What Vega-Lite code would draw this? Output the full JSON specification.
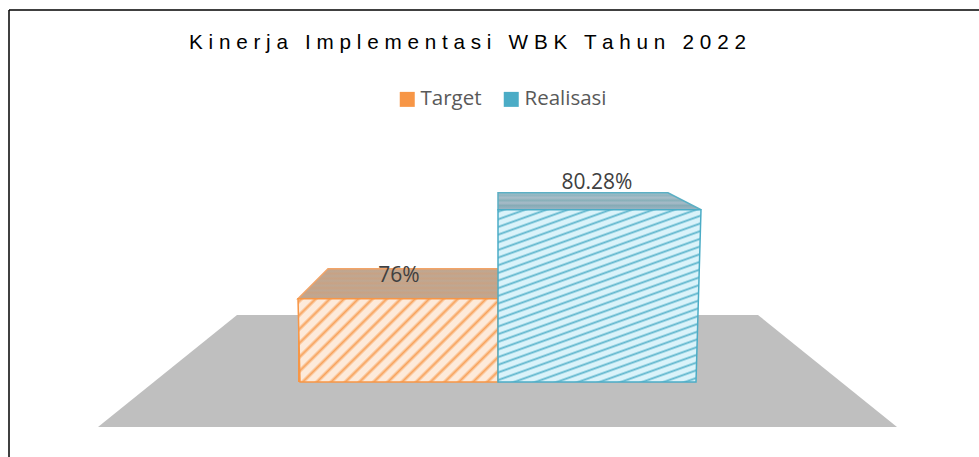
{
"$schema":"https://vega.github.io/schema/vega-lite/v6.json",
"description":"Kinerja Implementasi WBK Tahun 2022",
"width":979,"height":457,"padding":0,"autosize":"none","background":"white",
"title":{"text":"K i n e r j a \u00a0 I m p l e m e n t a s i \u00a0 W B K \u00a0 T a h u n \u00a0 2 0 2 2","anchor":"start","frame":"group","dx":189,"dy":58,"font":"Liberation Sans","fontSize":20.7,"fontWeight":"normal","color":"#000000"},
"config":{"view":{"stroke":null},"axis":{"grid":false}},
"datasets":{
"faces":[
{"face":"targetTop","v":76,"a":-0.0,"b":1.0},
{"face":"targetTop","v":77.44,"a":0.15,"b":1.0},
{"face":"realTop","v":80.28,"a":1.0,"b":2.015},
{"face":"realTop","v":81.1,"a":1.0,"b":1.85},
{"face":"targetFront","v":72,"a":0.01,"b":1.0},
{"face":"targetFront","v":76,"a":0.0,"b":1.0},
{"face":"realFront","v":72,"a":1.0,"b":1.99},
{"face":"realFront","v":80.28,"a":1.0,"b":2.015}
],
"floor":[{"v":69.84,"a":-1.0,"b":2.995},{"v":75.22,"a":-0.305,"b":2.3}],
"bars":[
{"series":"Target","value":76,"base":72,"start":0,"end":1,"labelPos":77.08,"mid":0.505,"label":"76%"},
{"series":"Realisasi","value":80.28,"base":72,"start":1,"end":1.99,"labelPos":81.57,"mid":1.495,"label":"80.28%"}
],
"frameH":[{"y":89.885,"x":-1.445,"x2":3.405}],
"frameV":[{"x":-1.445,"y":89.885,"y2":68.394}]
},
"layer":[
{"data":{"name":"floor"},"mark":{"type":"area","orient":"horizontal","color":"#BFBFBF"},
"encoding":{"y":{"field":"v","type":"quantitative","scale":{"domain":[68.394,90.365],"zero":false,"nice":false},"axis":null},"x":{"field":"a","type":"quantitative","scale":{"domain":[-1.49,3.405],"zero":false,"nice":false},"axis":null},"x2":{"field":"b"}}},
{"data":{"name":"frameH"},"mark":{"type":"rule","color":"#000000","strokeWidth":1.5},"encoding":{"y":{"field":"y","type":"quantitative"},"x":{"field":"x","type":"quantitative"},"x2":{"field":"x2"}}},
{"data":{"name":"frameV"},"mark":{"type":"rule","color":"#000000","strokeWidth":1.5},"encoding":{"x":{"field":"x","type":"quantitative"},"y":{"field":"y","type":"quantitative"},"y2":{"field":"y2"}}},
{"data":{"name":"bars"},"mark":{"type":"rect"},
"encoding":{"x":{"field":"start","type":"quantitative"},"x2":{"field":"end"},"y":{"field":"value","type":"quantitative"},"y2":{"field":"base"},
"fill":{"field":"series","type":"nominal","scale":{"domain":["Target","Realisasi"],"range":["#F79646","#4BACC6"]},
"legend":{"title":null,"orient":"none","legendX":397,"legendY":89,"direction":"horizontal","symbolType":"square","symbolSize":225,"symbolStrokeWidth":0,"labelFont":"Open Sans","labelFontSize":20.5,"labelColor":"#595959","labelOffset":3,"columnPadding":19,"symbolOpacity":1}}}},
{"data":{"name":"faces"},"transform":[{"filter":"datum.face==='targetTop'"}],"mark":{"type":"area","orient":"horizontal","stroke":"#F2A468","strokeWidth":1.5,
"color":{"gradient":"linear","x1":0,"y1":0,"x2":0,"y2":1,"stops":[{"offset":0,"color":"#C8A284"},{"offset":0.08,"color":"#BFA792"},{"offset":0.16,"color":"#C8A284"},{"offset":0.24,"color":"#BFA792"},{"offset":0.32,"color":"#C8A284"},{"offset":0.4,"color":"#BFA792"},{"offset":0.48,"color":"#C8A284"},{"offset":0.56,"color":"#BFA792"},{"offset":0.64,"color":"#C8A284"},{"offset":0.72,"color":"#BFA792"},{"offset":0.8,"color":"#C8A284"},{"offset":0.88,"color":"#BFA792"},{"offset":1,"color":"#C8A284"}]}},
"encoding":{"y":{"field":"v","type":"quantitative"},"x":{"field":"a","type":"quantitative"},"x2":{"field":"b"}}},
{"data":{"name":"faces"},"transform":[{"filter":"datum.face==='targetFront'"}],"mark":{"type":"area","orient":"horizontal","stroke":"#F79646","strokeWidth":1.5,
"color":{"gradient":"linear","x1":0,"y1":0,"x2":1.2067,"y2":0.507,"stops":[
{"offset":0,"color":"#FDEADA"},{"offset":0.0125,"color":"#F8A35C"},{"offset":0.025,"color":"#FDEADA"},
{"offset":0.05,"color":"#FDEADA"},{"offset":0.0625,"color":"#F8A35C"},{"offset":0.075,"color":"#FDEADA"},
{"offset":0.1,"color":"#FDEADA"},{"offset":0.1125,"color":"#F8A35C"},{"offset":0.125,"color":"#FDEADA"},
{"offset":0.15,"color":"#FDEADA"},{"offset":0.1625,"color":"#F8A35C"},{"offset":0.175,"color":"#FDEADA"},
{"offset":0.2,"color":"#FDEADA"},{"offset":0.2125,"color":"#F8A35C"},{"offset":0.225,"color":"#FDEADA"},
{"offset":0.25,"color":"#FDEADA"},{"offset":0.2625,"color":"#F8A35C"},{"offset":0.275,"color":"#FDEADA"},
{"offset":0.3,"color":"#FDEADA"},{"offset":0.3125,"color":"#F8A35C"},{"offset":0.325,"color":"#FDEADA"},
{"offset":0.35,"color":"#FDEADA"},{"offset":0.3625,"color":"#F8A35C"},{"offset":0.375,"color":"#FDEADA"},
{"offset":0.4,"color":"#FDEADA"},{"offset":0.4125,"color":"#F8A35C"},{"offset":0.425,"color":"#FDEADA"},
{"offset":0.45,"color":"#FDEADA"},{"offset":0.4625,"color":"#F8A35C"},{"offset":0.475,"color":"#FDEADA"},
{"offset":0.5,"color":"#FDEADA"},{"offset":0.5125,"color":"#F8A35C"},{"offset":0.525,"color":"#FDEADA"},
{"offset":0.55,"color":"#FDEADA"},{"offset":0.5625,"color":"#F8A35C"},{"offset":0.575,"color":"#FDEADA"},
{"offset":0.6,"color":"#FDEADA"},{"offset":0.6125,"color":"#F8A35C"},{"offset":0.625,"color":"#FDEADA"},
{"offset":0.65,"color":"#FDEADA"},{"offset":0.6625,"color":"#F8A35C"},{"offset":0.675,"color":"#FDEADA"},
{"offset":0.7,"color":"#FDEADA"},{"offset":0.7125,"color":"#F8A35C"},{"offset":0.725,"color":"#FDEADA"},
{"offset":0.75,"color":"#FDEADA"},{"offset":0.7625,"color":"#F8A35C"},{"offset":0.775,"color":"#FDEADA"},
{"offset":0.8,"color":"#FDEADA"},{"offset":0.8125,"color":"#F8A35C"},{"offset":0.825,"color":"#FDEADA"},
{"offset":0.85,"color":"#FDEADA"},{"offset":0.8625,"color":"#F8A35C"},{"offset":0.875,"color":"#FDEADA"},
{"offset":0.9,"color":"#FDEADA"},{"offset":0.9125,"color":"#F8A35C"},{"offset":0.925,"color":"#FDEADA"},
{"offset":0.95,"color":"#FDEADA"},{"offset":0.9625,"color":"#F8A35C"},{"offset":0.975,"color":"#FDEADA"},{"offset":1,"color":"#FDEADA"}]}},
"encoding":{"y":{"field":"v","type":"quantitative"},"x":{"field":"a","type":"quantitative"},"x2":{"field":"b"}}},
{"data":{"name":"faces"},"transform":[{"filter":"datum.face==='realTop'"}],"mark":{"type":"area","orient":"horizontal","stroke":"#5BAFC4","strokeWidth":1.5,
"color":{"gradient":"linear","x1":0,"y1":0,"x2":0,"y2":1,"stops":[{"offset":0,"color":"#A9C0CA"},{"offset":0.15,"color":"#8FB4BF"},{"offset":0.3,"color":"#A9BDC8"},{"offset":0.45,"color":"#88B0B9"},{"offset":0.6,"color":"#A8BBC8"},{"offset":0.75,"color":"#86ABB6"},{"offset":1,"color":"#9DB5C4"}]}},
"encoding":{"y":{"field":"v","type":"quantitative"},"x":{"field":"a","type":"quantitative"},"x2":{"field":"b"}}},
{"data":{"name":"faces"},"transform":[{"filter":"datum.face==='realFront'"}],"mark":{"type":"area","orient":"horizontal","stroke":"#4BACC6","strokeWidth":1.5,
"color":{"gradient":"linear","x1":0,"y1":0,"x2":0.5097,"y2":1.207,"stops":[
{"offset":0,"color":"#DAF3FA"},{"offset":0.008,"color":"#5FB6CD"},{"offset":0.016,"color":"#DAF3FA"},
{"offset":0.0313,"color":"#DAF3FA"},{"offset":0.0393,"color":"#5FB6CD"},{"offset":0.0473,"color":"#DAF3FA"},
{"offset":0.0625,"color":"#DAF3FA"},{"offset":0.0705,"color":"#5FB6CD"},{"offset":0.0785,"color":"#DAF3FA"},
{"offset":0.0938,"color":"#DAF3FA"},{"offset":0.1018,"color":"#5FB6CD"},{"offset":0.1098,"color":"#DAF3FA"},
{"offset":0.125,"color":"#DAF3FA"},{"offset":0.133,"color":"#5FB6CD"},{"offset":0.141,"color":"#DAF3FA"},
{"offset":0.1563,"color":"#DAF3FA"},{"offset":0.1643,"color":"#5FB6CD"},{"offset":0.1723,"color":"#DAF3FA"},
{"offset":0.1875,"color":"#DAF3FA"},{"offset":0.1955,"color":"#5FB6CD"},{"offset":0.2035,"color":"#DAF3FA"},
{"offset":0.2188,"color":"#DAF3FA"},{"offset":0.2268,"color":"#5FB6CD"},{"offset":0.2348,"color":"#DAF3FA"},
{"offset":0.25,"color":"#DAF3FA"},{"offset":0.258,"color":"#5FB6CD"},{"offset":0.266,"color":"#DAF3FA"},
{"offset":0.2813,"color":"#DAF3FA"},{"offset":0.2893,"color":"#5FB6CD"},{"offset":0.2973,"color":"#DAF3FA"},
{"offset":0.3125,"color":"#DAF3FA"},{"offset":0.3205,"color":"#5FB6CD"},{"offset":0.3285,"color":"#DAF3FA"},
{"offset":0.3438,"color":"#DAF3FA"},{"offset":0.3518,"color":"#5FB6CD"},{"offset":0.3598,"color":"#DAF3FA"},
{"offset":0.375,"color":"#DAF3FA"},{"offset":0.383,"color":"#5FB6CD"},{"offset":0.391,"color":"#DAF3FA"},
{"offset":0.4063,"color":"#DAF3FA"},{"offset":0.4143,"color":"#5FB6CD"},{"offset":0.4223,"color":"#DAF3FA"},
{"offset":0.4375,"color":"#DAF3FA"},{"offset":0.4455,"color":"#5FB6CD"},{"offset":0.4535,"color":"#DAF3FA"},
{"offset":0.4688,"color":"#DAF3FA"},{"offset":0.4768,"color":"#5FB6CD"},{"offset":0.4848,"color":"#DAF3FA"},
{"offset":0.5,"color":"#DAF3FA"},{"offset":0.508,"color":"#5FB6CD"},{"offset":0.516,"color":"#DAF3FA"},
{"offset":0.5313,"color":"#DAF3FA"},{"offset":0.5393,"color":"#5FB6CD"},{"offset":0.5473,"color":"#DAF3FA"},
{"offset":0.5625,"color":"#DAF3FA"},{"offset":0.5705,"color":"#5FB6CD"},{"offset":0.5785,"color":"#DAF3FA"},
{"offset":0.5938,"color":"#DAF3FA"},{"offset":0.6018,"color":"#5FB6CD"},{"offset":0.6098,"color":"#DAF3FA"},
{"offset":0.625,"color":"#DAF3FA"},{"offset":0.633,"color":"#5FB6CD"},{"offset":0.641,"color":"#DAF3FA"},
{"offset":0.6563,"color":"#DAF3FA"},{"offset":0.6643,"color":"#5FB6CD"},{"offset":0.6723,"color":"#DAF3FA"},
{"offset":0.6875,"color":"#DAF3FA"},{"offset":0.6955,"color":"#5FB6CD"},{"offset":0.7035,"color":"#DAF3FA"},
{"offset":0.7188,"color":"#DAF3FA"},{"offset":0.7268,"color":"#5FB6CD"},{"offset":0.7348,"color":"#DAF3FA"},
{"offset":0.75,"color":"#DAF3FA"},{"offset":0.758,"color":"#5FB6CD"},{"offset":0.766,"color":"#DAF3FA"},
{"offset":0.7813,"color":"#DAF3FA"},{"offset":0.7893,"color":"#5FB6CD"},{"offset":0.7973,"color":"#DAF3FA"},
{"offset":0.8125,"color":"#DAF3FA"},{"offset":0.8205,"color":"#5FB6CD"},{"offset":0.8285,"color":"#DAF3FA"},
{"offset":0.8438,"color":"#DAF3FA"},{"offset":0.8518,"color":"#5FB6CD"},{"offset":0.8598,"color":"#DAF3FA"},
{"offset":0.875,"color":"#DAF3FA"},{"offset":0.883,"color":"#5FB6CD"},{"offset":0.891,"color":"#DAF3FA"},
{"offset":0.9063,"color":"#DAF3FA"},{"offset":0.9143,"color":"#5FB6CD"},{"offset":0.9223,"color":"#DAF3FA"},
{"offset":0.9375,"color":"#DAF3FA"},{"offset":0.9455,"color":"#5FB6CD"},{"offset":0.9535,"color":"#DAF3FA"},
{"offset":0.9688,"color":"#DAF3FA"},{"offset":0.9768,"color":"#5FB6CD"},{"offset":0.9848,"color":"#DAF3FA"},{"offset":1,"color":"#DAF3FA"}]}},
"encoding":{"y":{"field":"v","type":"quantitative"},"x":{"field":"a","type":"quantitative"},"x2":{"field":"b"}}},
{"data":{"name":"bars"},"mark":{"type":"text","font":"Open Sans","fontSize":21,"color":"#404040","baseline":"middle","align":"center"},
"encoding":{"x":{"field":"mid","type":"quantitative"},"y":{"field":"labelPos","type":"quantitative"},"text":{"field":"label"}}}
]
}
